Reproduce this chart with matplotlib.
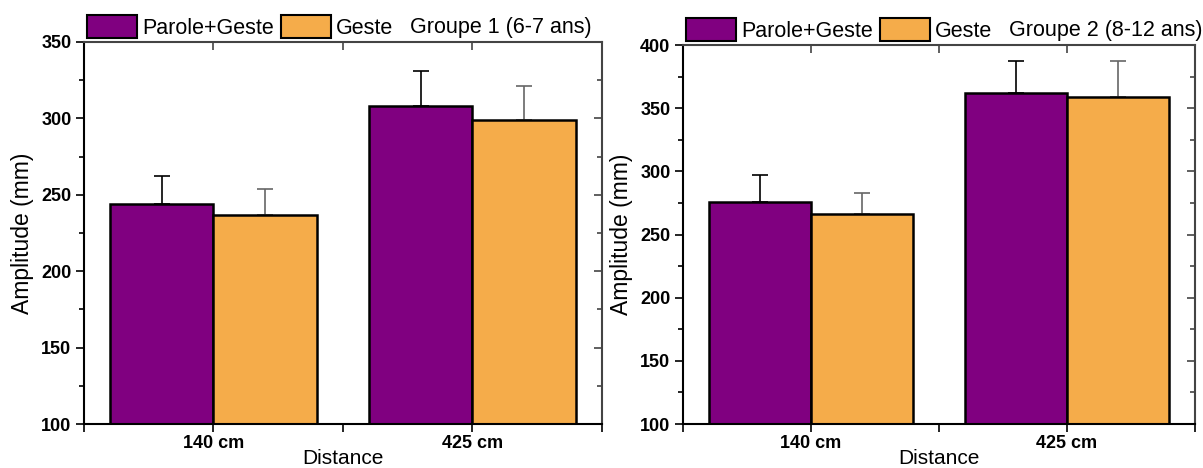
import numpy as np
import matplotlib.pyplot as plt
from matplotlib.patches import Patch

plt.rcParams['font.family'] = ['Liberation Sans', 'DejaVu Sans']

# Données
distances = ["140 cm", "425 cm"]
groupes = ["Groupe 1 (6-7 ans)", "Groupe 2 (8-12 ans)"]
series = ["Parole+Geste", "Geste"]

g1_parole = [244, 308]
g1_parole_err = [18, 23]
g1_geste = [237, 299]
g1_geste_err = [17, 22]

g2_parole = [276, 362]
g2_parole_err = [21, 25]
g2_geste = [266, 358.5]
g2_geste_err = [17, 29]

ylims = [(100, 350), (100, 400)]

purple = "#800080"
orange = "#F5AC4A"

fig = plt.figure(figsize=(12.03, 4.68), dpi=100)
ax0 = fig.add_axes([0.0698, 0.094, 0.4306, 0.8163])
ax1 = fig.add_axes([0.5677, 0.094, 0.4256, 0.8098])

data = [
    (ax0, g1_parole, g1_parole_err, g1_geste, g1_geste_err),
    (ax1, g2_parole, g2_parole_err, g2_geste, g2_geste_err),
]

x = np.arange(1, len(distances) + 1)
w = 0.4

for i, (ax, p, pe, g, ge) in enumerate(data):
    # barres accolées de part et d'autre de la graduation
    ax.bar(x, p, -w, align="edge", color=purple, edgecolor="black",
           linewidth=1.8, zorder=2)
    ax.bar(x, g, w, align="edge", color=orange, edgecolor="black",
           linewidth=1.8, zorder=2)

    ax.errorbar(x - w / 2, p, yerr=[np.zeros(2), pe], fmt="none",
                ecolor="black", elinewidth=1.2, capsize=6, capthick=1.2,
                zorder=1)
    ax.errorbar(x + w / 2, g, yerr=[np.zeros(2), ge], fmt="none",
                ecolor="#666666", elinewidth=1.2, capsize=6, capthick=1.2,
                zorder=1)

    lo, hi = ylims[i]
    ax.set_ylim(lo, hi)
    ax.set_xlim(0.5, 2.5)
    ax.set_xticks(x)
    ax.set_xticklabels(distances, fontsize=13, fontweight="bold")
    ax.set_xticks([0.5, 1.5, 2.5], minor=True)
    ax.set_yticks(np.arange(lo, hi + 1, 50))
    ax.set_yticks(np.arange(lo, hi + 1, 25), minor=True)
    for lab in ax.get_yticklabels():
        lab.set_fontsize(13)
        lab.set_fontweight("bold")

    ax.tick_params(axis="both", which="major", direction="out", length=6,
                   width=1.2, pad=3)
    ax.tick_params(axis="x", which="major", pad=2)
    ax.tick_params(axis="both", which="minor", direction="out", length=3.5,
                   width=1.2)
    ax.tick_params(axis="x", which="minor", length=6)

    for s in ["left", "bottom"]:
        ax.spines[s].set_linewidth(1.5)
        ax.spines[s].set_color("black")
    for s in ["top", "right"]:
        ax.spines[s].set_linewidth(1.5)
        ax.spines[s].set_color("#444444")

    top = ax.secondary_xaxis("top")
    top.set_xticks([0.5, 1, 1.5, 2, 2.5])
    top.tick_params(direction="in", length=6, width=1.2, labeltop=False,
                    color="#444444")
    top.spines["top"].set_visible(False)
    right = ax.secondary_yaxis("right")
    right.set_yticks(np.arange(lo, hi + 1, 50))
    right.set_yticks(np.arange(lo, hi + 1, 25), minor=True)
    right.tick_params(which="major", direction="in", length=6, width=1.2,
                      labelright=False, color="#444444")
    right.tick_params(which="minor", direction="in", length=3.5, width=1.2,
                      color="#444444")
    right.spines["right"].set_visible(False)

    ax.set_xlabel("Distance", fontsize=15, labelpad=-2)
    ax.set_ylabel("Amplitude (mm)", fontsize=16.5, labelpad=5)

    handles = [Patch(facecolor=purple, edgecolor="black", linewidth=1.5),
               Patch(facecolor=orange, edgecolor="black", linewidth=1.5)]
    leg = ax.legend(handles, series, loc="lower left",
                    bbox_to_anchor=(0.0, 1.0), ncol=2, frameon=False,
                    fontsize=15.5, handlelength=2.3, handleheight=1.2,
                    handletextpad=0.25, columnspacing=0.35, borderpad=0.1,
                    borderaxespad=0.05)
    ax.annotate(groupes[i], xy=(1, 0.5), xycoords=leg, xytext=(10, 0),
                textcoords="offset points", va="center", fontsize=15.5)

fig.savefig("out.png", dpi=100)
